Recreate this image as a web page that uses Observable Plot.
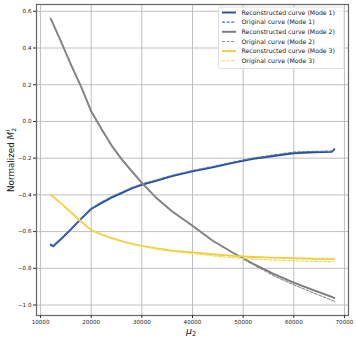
<!DOCTYPE html>
<html>
<head>
<meta charset="utf-8">
<script src="https://cdn.jsdelivr.net/npm/d3@7"></script>
<script src="https://cdn.jsdelivr.net/npm/@observablehq/plot@0.6"></script>
<style>
  html, body { margin: 0; padding: 0; background: #fff; }
  #chart { width: 357px; height: 340px; }
</style>
</head>
<body>
<div id="chart"></div>
<script>
// ---- data ----
const mu2 = [12000, 12500, 14000, 16000, 18000, 20000, 22000, 24000, 26000, 28000, 30000, 33000, 36000, 40000, 44000, 48000, 52000, 56000, 60000, 64000, 67500, 68000];
const mode1Recon = [-0.672, -0.680, -0.642, -0.588, -0.531, -0.477, -0.445, -0.415, -0.390, -0.365, -0.345, -0.322, -0.298, -0.272, -0.250, -0.226, -0.204, -0.188, -0.173, -0.168, -0.166, -0.152];
const mode1Orig  = [-0.668, -0.676, -0.638, -0.584, -0.527, -0.473, -0.440, -0.410, -0.385, -0.360, -0.340, -0.317, -0.293, -0.267, -0.245, -0.221, -0.199, -0.183, -0.167, -0.163, -0.161, -0.148];
const mode2Recon = [0.560, 0.530, 0.437, 0.310, 0.190, 0.055, -0.040, -0.130, -0.205, -0.270, -0.335, -0.420, -0.490, -0.568, -0.650, -0.715, -0.775, -0.830, -0.878, -0.920, -0.955, -0.962];
const mode2Orig  = [0.560, 0.530, 0.437, 0.310, 0.190, 0.055, -0.040, -0.130, -0.205, -0.270, -0.335, -0.420, -0.490, -0.568, -0.650, -0.717, -0.780, -0.840, -0.890, -0.935, -0.974, -0.980];
const mode3Recon = [-0.400, -0.410, -0.445, -0.495, -0.545, -0.592, -0.615, -0.635, -0.652, -0.667, -0.678, -0.692, -0.704, -0.713, -0.723, -0.732, -0.738, -0.742, -0.745, -0.748, -0.750, -0.750];
const mode3Orig  = [-0.400, -0.410, -0.445, -0.495, -0.545, -0.592, -0.615, -0.635, -0.652, -0.667, -0.679, -0.694, -0.707, -0.720, -0.732, -0.742, -0.750, -0.755, -0.759, -0.762, -0.764, -0.764];

const xTicks = [10000, 20000, 30000, 40000, 50000, 60000, 70000];
const yTicks = [-1.0, -0.8, -0.6, -0.4, -0.2, 0.0, 0.2, 0.4, 0.6];

const seriesNames = [
  "Reconstructed curve (Mode 1)", "Original curve (Mode 1)",
  "Reconstructed curve (Mode 2)", "Original curve (Mode 2)",
  "Reconstructed curve (Mode 3)", "Original curve (Mode 3)"
];
const seriesValues = [mode1Recon, mode1Orig, mode2Recon, mode2Orig, mode3Recon, mode3Orig];
const seriesColors = ["#2a4e91", "#4a72b5", "#7a7a7a", "#8c8c8c", "#f0cf3c", "#f3d75a"];
const seriesDashed = [false, true, false, true, false, true];

// ---- build table ----
const rows = [];
seriesNames.forEach((name, i) => {
  seriesValues[i].forEach((v, j) => rows.push({series: name, idx: i, x: mu2[j], y: v}));
});

const lineMarks = seriesNames.map((name, i) =>
  Plot.line(rows.filter(r => r.series === name), {
    x: "x", y: "y",
    stroke: seriesColors[i],
    strokeWidth: seriesDashed[i] ? 1.1 : 1.9,
    strokeDasharray: seriesDashed[i] ? "3,1.6" : null,
    curve: "linear"
  })
);

const chart = Plot.plot({
  width: 357,
  height: 340,
  marginLeft: 36,
  marginRight: 9,
  marginTop: 4,
  marginBottom: 25,
  style: {fontFamily: "DejaVu Sans, sans-serif", fontSize: "5.6px", color: "#222", background: "#fff"},
  x: {domain: [9200, 70800]},
  y: {domain: [-1.057, 0.637]},
  marks: [
    Plot.gridX(xTicks, {stroke: "#b8b8b8", strokeOpacity: 1, strokeWidth: 0.9}),
    Plot.gridY(yTicks, {stroke: "#b8b8b8", strokeOpacity: 1, strokeWidth: 0.9}),
    ...lineMarks,
    Plot.frame({stroke: "#666", strokeWidth: 1.2}),
    Plot.axisX(xTicks, {tickSize: 3, tickPadding: 2, tickFormat: d3.format("d"), label: null, stroke: "#333"}),
    Plot.axisY(yTicks, {tickSize: 3, tickPadding: 2, tickFormat: d3.format(".1f"), label: null, stroke: "#333"})
  ]
});

document.getElementById("chart").appendChild(chart);

// ---- axis labels with sub/superscripts ----
const svg = d3.select(chart);
const xl = svg.append("text")
  .attr("x", 186).attr("y", 334)
  .attr("text-anchor", "start")
  .attr("font-family", "DejaVu Sans, sans-serif")
  .attr("font-size", 9.5).attr("fill", "#111");
xl.append("tspan").attr("font-style", "italic").text("μ");
xl.append("tspan").attr("font-size", 6.5).attr("dy", 2.2).text("2");

const yl = svg.append("text")
  .attr("transform", "translate(14,160) rotate(-90)")
  .attr("text-anchor", "middle")
  .attr("font-family", "DejaVu Sans, sans-serif")
  .attr("font-size", 8.8).attr("fill", "#111");
yl.append("tspan").text("Normalized ");
yl.append("tspan").attr("font-style", "italic").text("M");
yl.append("tspan").attr("font-size", 6).attr("dy", 2.2).text("2");
yl.append("tspan").attr("font-size", 6).attr("font-style", "italic").attr("dx", -3.6).attr("dy", -6).text("i");

// ---- legend ----
const lg = svg.append("g")
  .attr("font-family", "DejaVu Sans, sans-serif")
  .attr("font-size", 6.2)
  .attr("text-anchor", "start");
lg.append("rect")
  .attr("x", 218.5).attr("y", 7).attr("width", 125.5).attr("height", 61.5)
  .attr("rx", 2).attr("fill", "#fff").attr("fill-opacity", 0.85)
  .attr("stroke", "#d6d6d6").attr("stroke-width", 0.8);
seriesNames.forEach((name, i) => {
  const cy = 12.5 + i * 9.65;
  lg.append("line")
    .attr("x1", 222).attr("x2", 236).attr("y1", cy).attr("y2", cy)
    .attr("stroke", seriesColors[i])
    .attr("stroke-width", seriesDashed[i] ? 1.1 : 1.9)
    .attr("stroke-dasharray", seriesDashed[i] ? "3,1.6" : null);
  lg.append("text").attr("x", 241.5).attr("y", cy).attr("dy", "0.35em").attr("fill", "#222").text(name);
});
</script>
</body>
</html>
